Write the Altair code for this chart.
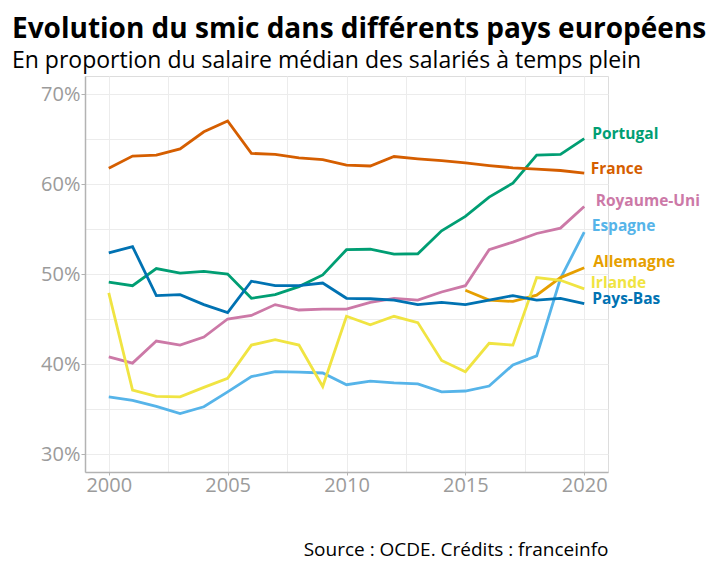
import altair as alt
import pandas as pd

FONT = "Open Sans"

years = list(range(2000, 2021))
series_names = ["Portugal", "France", "Royaume-Uni", "Espagne", "Allemagne", "Irlande", "Pays-Bas"]

portugal = [49.1, 48.7, 50.6, 50.1, 50.3, 50.0, 47.3, 47.7, 48.6, 49.9, 52.7,
            52.75, 52.2, 52.25, 54.8, 56.4, 58.55, 60.1, 63.2, 63.3, 65.05]
france = [61.75, 63.1, 63.2, 63.9, 65.8, 67.0, 63.4, 63.3, 62.9, 62.7, 62.1,
          62.0, 63.05, 62.8, 62.6, 62.35, 62.05, 61.8, 61.65, 61.5, 61.2]
royaume_uni = [40.8, 40.1, 42.55, 42.1, 43.0, 45.0, 45.4, 46.6, 46.0, 46.1, 46.1,
               46.85, 47.3, 47.1, 48.0, 48.7, 52.7, 53.55, 54.5, 55.1, 57.5]
espagne = [36.35, 35.95, 35.3, 34.5, 35.25, 36.9, 38.6, 39.15, 39.1, 39.0, 37.7,
           38.1, 37.9, 37.8, 36.9, 37.0, 37.55, 39.9, 40.9, 49.5, 54.65]
allemagne = [None] * 15 + [48.2, 47.1, 46.95, 47.65, 49.6, 50.7]
irlande = [47.9, 37.1, 36.4, 36.35, 37.4, 38.4, 42.1, 42.7, 42.1, 37.5, 45.3,
           44.35, 45.3, 44.6, 40.4, 39.15, 42.3, 42.1, 49.6, 49.3, 48.35]
pays_bas = [52.35, 53.05, 47.6, 47.7, 46.6, 45.7, 49.2, 48.7, 48.7, 49.0, 47.3,
            47.25, 47.1, 46.6, 46.85, 46.6, 47.1, 47.6, 47.1, 47.3, 46.7]

colors = ["#009E73", "#D55E00", "#CC79A7", "#56B4E9", "#E69F00", "#F0E442", "#0072B2"]

y_ticks = [30, 35, 40, 45, 50, 55, 60, 65, 70]
x_ticks = [2000, 2002.5, 2005, 2007.5, 2010, 2012.5, 2015, 2017.5, 2020]

all_series = [portugal, france, royaume_uni, espagne, allemagne, irlande, pays_bas]
rows = []
for name, vals in zip(series_names, all_series):
    for yr, v in zip(years, vals):
        if v is not None:
            rows.append({"pays": name, "annee": yr, "valeur": v})
df = pd.DataFrame(rows)

# label nudges in pixels (dx, dy) -- layout only
label_nudge = {
    "Portugal": (8, -4.5),
    "France": (6.5, -4.5),
    "Royaume-Uni": (11.5, -6),
    "Espagne": (7.5, -6),
    "Allemagne": (9, -5.5),
    "Irlande": (6.5, -6),
    "Pays-Bas": (8, -5),
}

GRID = "#ececec"
AXIS_GREY = "#9b9b9b"
DOMAIN_GREY = "#b3b3b3"

X = alt.X(
    "annee:Q",
    scale=alt.Scale(domain=[1999, 2021], nice=False, zero=False),
    axis=alt.Axis(
        values=x_ticks,
        labelExpr="datum.value % 5 === 0 ? '' + datum.value : ''",
        tickOpacity={"condition": {"test": "datum.value % 5 === 0", "value": 1}, "value": 0},
        title="Source : OCDE. Crédits : franceinfo",
        titleAnchor="end",
        titleFont=FONT,
        titleFontSize=19,
        titleFontWeight="normal",
        titleColor="#000000",
        titlePadding=45,
        labelFont=FONT,
        labelFontSize=20,
        labelColor=AXIS_GREY,
        labelPadding=0,
        labelFlush=False,
        tickSize=3,
        tickColor=DOMAIN_GREY,
        domainColor=DOMAIN_GREY,
        domainWidth=1.5,
        gridColor=GRID,
        gridWidth=1,
    ),
)
Y = alt.Y(
    "valeur:Q",
    scale=alt.Scale(domain=[28, 72], nice=False, zero=False),
    axis=alt.Axis(
        values=y_ticks,
        labelExpr="datum.value % 10 === 0 ? datum.value + '%' : ''",
        tickOpacity={"condition": {"test": "datum.value % 10 === 0", "value": 1}, "value": 0},
        title=None,
        labelFont=FONT,
        labelFontSize=20,
        labelColor=AXIS_GREY,
        labelPadding=1,
        tickSize=4,
        tickColor=DOMAIN_GREY,
        domainColor=DOMAIN_GREY,
        domainWidth=1.5,
        gridColor=GRID,
        gridWidth=1,
    ),
)
C = alt.Color("pays:N", scale=alt.Scale(domain=series_names, range=colors), legend=None)

lines = alt.Chart(df).mark_line(strokeWidth=2.8).encode(x=X, y=Y, color=C, detail="pays:N")

label_layers = []
for name in series_names:
    sub = df[(df["pays"] == name) & (df["annee"] == 2020)]
    dx, dy = label_nudge[name]
    label_layers.append(
        alt.Chart(sub).mark_text(
            align="left", baseline="middle", dx=dx, dy=dy,
            font=FONT, fontSize=15.5, fontWeight="bold"
        ).encode(x=X, y=Y, color=C, text="pays:N")
    )

chart = alt.layer(lines, *label_layers).properties(
    width=523,
    height=396,
    padding={"left": 77, "top": 68, "right": 104, "bottom": 90},
    autosize=alt.AutoSizeParams(type="none"),
    title=alt.TitleParams(
        text="Evolution du smic dans différents pays européens",
        subtitle="En proportion du salaire médian des salariés à temps plein",
        anchor="start",
        frame="group",
        dx=-73,
        offset=3,
        font=FONT,
        fontSize=28,
        fontWeight="bold",
        color="#000000",
        subtitleFont=FONT,
        subtitleFontSize=23,
        subtitleColor="#000000",
        subtitlePadding=6,
    ),
).configure_view(stroke=None).configure(background="white")

chart.save("out.html", embed_options={"renderer": "svg", "actions": False})
